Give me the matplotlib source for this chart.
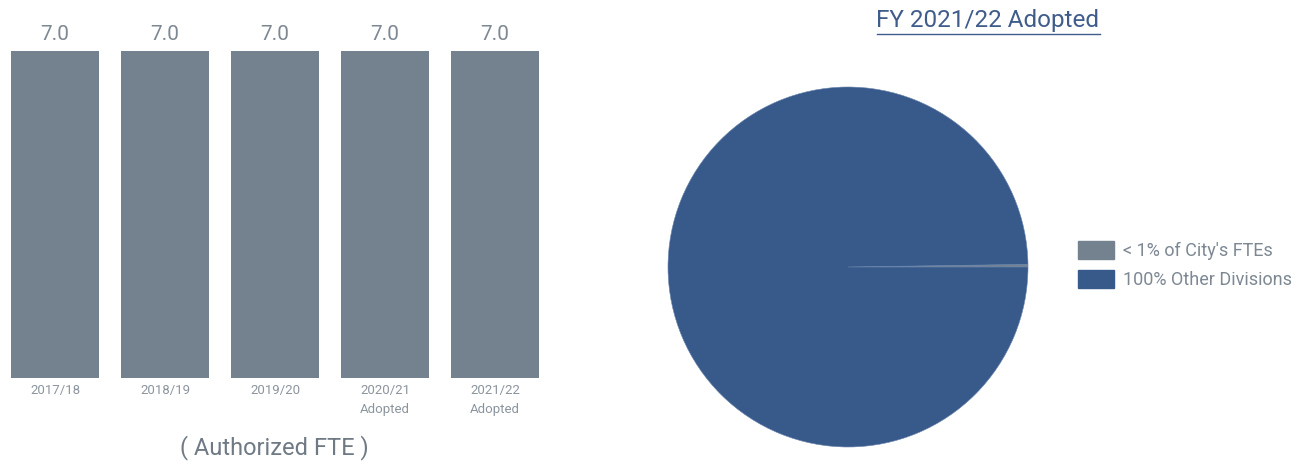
import matplotlib
matplotlib.use("Agg")
import matplotlib.pyplot as plt
from matplotlib.lines import Line2D
from matplotlib.patches import Patch

plt.rcParams['font.family'] = ['Liberation Sans Narrow', 'Roboto', 'DejaVu Sans']

# data
years = ["2017/18", "2018/19", "2019/20", "2020/21\nAdopted", "2021/22\nAdopted"]
fte = [7.0, 7.0, 7.0, 7.0, 7.0]
pie_labels = ["< 1% of City's FTEs", "100% Other Divisions"]
pie_values = [7.0, 2993.0]

bar_color = "#748290"
blue = "#385a8b"
text_gray = "#7d8893"

fig = plt.figure(figsize=(13.04, 4.7), dpi=100)

# bar chart
ax = fig.add_axes([0.0, 0.1957, 0.4218, 0.6958])
ax.bar(range(len(years)), fte, width=0.8, color=bar_color)
ax.set_xlim(-0.5, 4.5)
ax.set_ylim(0, 7)
for i, v in enumerate(fte):
    ax.annotate(f"{v:.1f}", (i, v), xytext=(0, 5), textcoords="offset points",
                ha="center", va="bottom", fontsize=15, color=text_gray)
ax.set_xticks(range(len(years)))
ax.set_xticklabels(years, fontsize=9.5, color="#8c959e", linespacing=1.65)
ax.tick_params(axis="x", length=0, pad=4)
ax.set_yticks([])
for s in ax.spines.values():
    s.set_visible(False)
fig.text(274 / 1304, 1 - 448 / 470, "( Authorized FTE )", ha="center", va="center",
         fontsize=17, color="#6f7a85")

# pie chart
ax2 = fig.add_axes([668 / 1304, 23 / 470, 360 / 1304, 360 / 470])
wedges, _ = ax2.pie(pie_values, colors=[bar_color, blue], startangle=0,
                    counterclock=True, radius=1,
                    wedgeprops=dict(edgecolor="#6b86ad", linewidth=0.4))
ax2.set_xlim(-1, 1)
ax2.set_ylim(-1, 1)
ax2.set_aspect("equal")

handles = [Patch(color=bar_color), Patch(color=blue)]
fig.legend(handles, pie_labels, loc="center left",
           bbox_to_anchor=(1062 / 1304, 1 - 265 / 470), frameon=False,
           fontsize=13, labelcolor=text_gray, handlelength=2.0, handleheight=1.2,
           handletextpad=0.5, labelspacing=0.55)

# underlined title
t = fig.text(988 / 1304, 1 - 21 / 470, "FY 2021/22 Adopted", ha="center", va="center",
             fontsize=17.5, color="#3f5c8a")
fig.canvas.draw()
bb = t.get_window_extent().transformed(fig.transFigure.inverted())
fig.add_artist(Line2D([bb.x0, bb.x1], [bb.y0 - 0.004, bb.y0 - 0.004],
                      transform=fig.transFigure, color="#3f5c8a", linewidth=1))

fig.savefig("out.png", dpi=100)
